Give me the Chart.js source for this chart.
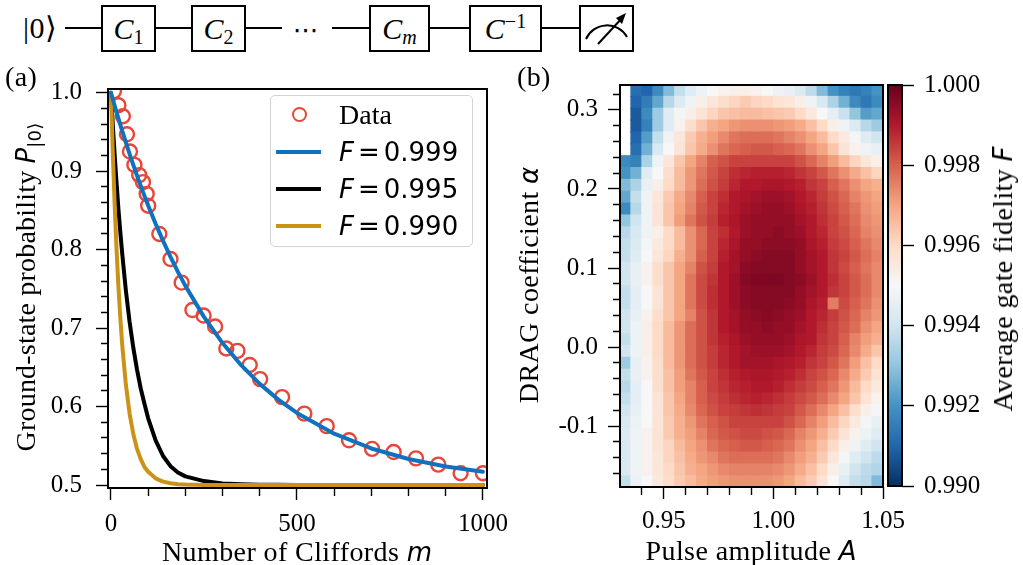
<!DOCTYPE html>
<html lang="en">
<head>
<meta charset="UTF-8">
<title>Randomized benchmarking and DRAG calibration</title>
<script src="https://cdn.jsdelivr.net/npm/chart.js@4.4.1/dist/chart.umd.min.js"></script>
<style>
  html, body { margin: 0; padding: 0; background: #fff; }
  body { position: relative; width: 1023px; height: 565px; overflow: hidden; font-family: "Liberation Serif", serif; color: #000; }
  canvas { position: absolute; }
  .t { position: absolute; white-space: nowrap; font-size: 28px; line-height: 28px; height: 28px; letter-spacing: 0.4px; z-index: 4; }
  .c { transform: translate(-50%, -50%); }
  .r { transform: translate(-50%, -50%) rotate(-90deg); }
  .m { font-family: "DejaVu Sans", sans-serif; font-style: italic; font-size: 26px; letter-spacing: 0; }
  .wire { position: absolute; top: 27px; height: 2px; background: #000; }
  .gate { position: absolute; top: 5px; height: 47px; box-sizing: border-box; border: 2px solid #000; background: #fff;
          display: flex; align-items: center; justify-content: center; font-size: 30px; line-height: 30px; }
  .gate sub { font-size: 20px; font-style: normal; vertical-align: -5px; line-height: 0; }
  .gate sup { font-size: 20px; vertical-align: 11px; line-height: 0; }
  #legend { position: absolute; left: 270px; top: 95px; width: 203px; height: 152px; box-sizing: border-box;
            border: 1.5px solid #d4d4d4; border-radius: 5px; background: rgba(255,255,255,0.85); z-index: 5; }
  #legend .item { position: relative; height: 37px; }
  .mk-dot { position: absolute; left: 21px; top: 11px; width: 15px; height: 15px; box-sizing: border-box; border: 2.4px solid; border-radius: 50%; }
  .mk-line { position: absolute; left: 5px; top: 16.5px; width: 45px; height: 4px; }
  .lt { position: absolute; left: 68px; top: 0; height: 37px; line-height: 37px; font-size: 28px; white-space: nowrap; }
</style>
</head>
<body>

<!-- circuit -->
<div class="t" style="left:23px; top:14px; font-size:30px;">|0⟩</div>
<div class="wire" style="left:65px; width:37px"></div>
<div class="gate" style="left:101px; width:55px"><span><i>C</i><sub>1</sub></span></div>
<div class="wire" style="left:155px; width:37px"></div>
<div class="gate" style="left:191px; width:55px"><span><i>C</i><sub>2</sub></span></div>
<div class="wire" style="left:245px; width:37px"></div>
<div class="t c" style="left:306px; top:30px; font-family:'DejaVu Sans'; font-size:26px;">⋯</div>
<div class="wire" style="left:332px; width:38px"></div>
<div class="gate" style="left:369px; width:61px"><span><i>C</i><sub><i>m</i></sub></span></div>
<div class="wire" style="left:429px; width:41px"></div>
<div class="gate" style="left:469px; width:73px"><span><i>C</i><sup>−1</sup></span></div>
<div class="wire" style="left:541px; width:39px"></div>
<div class="gate" style="left:579px; width:55px">
  <svg width="51" height="43" viewBox="0 0 51 43">
    <path d="M5 32 A 23 23 0 0 1 46 30" fill="none" stroke="#000" stroke-width="2"/>
    <line x1="17" y1="37" x2="42" y2="10" stroke="#000" stroke-width="2"/>
    <polygon points="45,6 35,11 41,17" fill="#000"/>
  </svg>
</div>

<canvas id="rb" width="520" height="505" style="left:0; top:60px"></canvas>
<canvas id="heat" width="420" height="505" style="left:500px; top:60px"></canvas>
<canvas id="cbar" width="143" height="505" style="left:880px; top:60px"></canvas>

<div id="legend"></div>

<div class="t" style="left:5px; top:63px">(a)</div>
<div class="t" style="left:517px; top:63px">(b)</div>
<div class="t r" style="left:26px; top:287px; letter-spacing:0.2px">Ground-state probability <span class="m">P</span><span style="font-family:'DejaVu Sans'; font-size:18px; position:relative; top:6px">|0⟩</span></div>
<div class="t c" style="left:297px; top:552px">Number of Cliffords <span class="m">m</span></div>
<div class="t r" style="left:529px; top:285px">DRAG coefficient <span class="m">α</span></div>
<div class="t c" style="left:751px; top:551px">Pulse amplitude <span class="m">A</span></div>
<div class="t r" style="left:1003px; top:279px">Average gate fidelity <span class="m">F</span></div>

<script>
// ---------- panel (a): ground-state probability vs number of Cliffords ----------
const dataM = [8, 20, 32, 43, 51, 63, 76, 86, 96, 100, 130, 160, 190, 219, 249, 280, 310, 340, 373, 401,
               460, 520, 580, 640, 702, 760, 820, 880, 940, 1000];
const dataP = [1.002, 0.984, 0.970, 0.947, 0.925, 0.908, 0.895, 0.886, 0.871, 0.856, 0.820, 0.788, 0.758, 0.723, 0.716,
               0.702, 0.674, 0.671, 0.653, 0.635, 0.612, 0.591, 0.575, 0.557, 0.546, 0.542, 0.534, 0.526, 0.515, 0.515];

const curveM = [0, 5, 10, 15, 20, 25, 30, 40, 50, 60, 70, 80, 90, 100, 120, 140, 160, 180, 200, 250,
                300, 350, 400, 450, 500, 600, 700, 800, 900, 1000];
const curve999 = [1.000, 0.9916, 0.9833, 0.9752, 0.9672, 0.9594, 0.9517, 0.9366, 0.9220, 0.9080, 0.8944, 0.8812, 0.8685, 0.8563, 0.8329,
                  0.8111, 0.7907, 0.7716, 0.7538, 0.7143, 0.6809, 0.6527, 0.6289, 0.6088, 0.5918, 0.5654, 0.5466, 0.5332, 0.5237, 0.5169];
const curve995 = [1.000, 0.958, 0.920, 0.885, 0.852, 0.823, 0.796, 0.748, 0.708, 0.675, 0.647, 0.623, 0.6035, 0.585, 0.557,
                  0.537, 0.524, 0.516, 0.511, 0.505, 0.502, 0.501, 0.5005, 0.5002, 0.500, 0.500, 0.500, 0.500, 0.500, 0.500];
const curve990 = [1.000, 0.922, 0.856, 0.800, 0.753, 0.714, 0.680, 0.628, 0.591, 0.565, 0.546, 0.533, 0.523, 0.517, 0.5085,
                  0.5043, 0.5022, 0.5011, 0.5006, 0.5001, 0.500, 0.500, 0.500, 0.500, 0.500, 0.500, 0.500, 0.500, 0.500, 0.500];

const rbXMajor = [0, 500, 1000];
const rbXMinor = [100, 200, 300, 400, 600, 700, 800, 900];
const rbYMajor = [0.5, 0.6, 0.7, 0.8, 0.9, 1.0];
const rbYMinor = [0.52, 0.54, 0.56, 0.58, 0.62, 0.64, 0.66, 0.68, 0.72, 0.74, 0.76, 0.78,
                  0.82, 0.84, 0.86, 0.88, 0.92, 0.94, 0.96, 0.98];

// ---------- panel (b): average gate fidelity map ----------
// cell centres; values are infidelity 1-F in units of 1e-4 (null = no data)
const heatA = [0.9325, 0.9375, 0.9425, 0.9475, 0.9525, 0.9575, 0.9625, 0.9675, 0.9725, 0.9775, 0.9825, 0.9875,
               0.9925, 0.9975, 1.0025, 1.0075, 1.0125, 1.0175, 1.0225, 1.0275, 1.0325, 1.0375, 1.0425, 1.0475];
const heatAlpha = [0.3245, 0.3095, 0.2945, 0.2795, 0.2645, 0.2495, 0.2345, 0.2195, 0.2045, 0.1895, 0.1745, 0.1595,
                   0.1445, 0.1295, 0.1145, 0.0995, 0.0845, 0.0695, 0.0545, 0.0395, 0.0245, 0.0095, -0.0055, -0.0205,
                   -0.0355, -0.0505, -0.0655, -0.0805, -0.0955, -0.1105, -0.1255, -0.1405, -0.1555, -0.1705];
const heatInfid = [
  [null, 88, 90, 82, 72, 62, 56, 53, 50, 48, 47, 47, 48, 50, 53, 54, 57, 63, 72, 80, 84, 86, 84, 80],
  [null, 90, 85, 76, 64, 57, 52, 47, 44, 41, 39, 37, 39, 40, 43, 44, 47, 52, 58, 66, 74, 82, 86, 82],
  [null, 92, 82, 68, 56, 51, 47, 43, 39, 36, 35, 34, 34, 35, 36, 37, 40, 45, 50, 55, 61, 70, 78, 76],
  [null, 92, 84, 68, 56, 48, 41, 36, 32, 30, 28, 27, 27, 27, 28, 29, 31, 35, 40, 47, 52, 57, 64, 68],
  [null, 90, 78, 62, 52, 44, 37, 32, 29, 26, 23, 22, 22, 22, 23, 25, 27, 30, 34, 40, 45, 51, 56, 60],
  [null, 88, 74, 58, 50, 43, 36, 31, 27, 23, 21, 20, 19, 19, 20, 21, 23, 27, 30, 36, 43, 48, 52, 54],
  [82, 84, 66, 52, 44, 36, 30, 25, 20, 18, 16, 16, 16, 16, 16, 16, 18, 21, 25, 29, 34, 39, 44, 47],
  [80, 74, 56, 50, 41, 34, 28, 23, 19, 16, 13, 12, 11, 11, 11, 12, 14, 16, 19, 23, 27, 31, 35, 39],
  [72, 66, 54, 47, 40, 34, 28, 22, 18, 15, 12, 10, 10, 9, 9, 10, 11, 14, 16, 20, 23, 27, 30, 32],
  [76, 62, 52, 44, 37, 31, 26, 20, 16, 13, 10, 9, 8, 7, 7, 8, 10, 12, 15, 18, 21, 25, 28, 30],
  [82, 64, 52, 43, 36, 30, 25, 19, 16, 12, 10, 8, 7, 6, 6, 7, 9, 11, 14, 17, 20, 23, 27, 29],
  [70, 60, 52, 43, 36, 29, 23, 18, 15, 11, 9, 7, 6, 6, 6, 6, 8, 10, 13, 16, 19, 22, 26, 28],
  [64, 58, 52, 47, 40, 34, 27, 21, 16, 13, 10, 7, 6, 6, 5, 6, 7, 10, 12, 16, 18, 21, 25, 27],
  [62, 57, 51, 45, 40, 34, 27, 21, 16, 12, 9, 6, 6, 5, 5, 5, 6, 9, 11, 15, 17, 20, 23, 26],
  [62, 56, 50, 44, 39, 32, 27, 20, 16, 11, 8, 6, 5, 4, 4, 4, 6, 8, 10, 14, 16, 19, 22, 25],
  [60, 54, 48, 41, 36, 30, 25, 18, 15, 10, 8, 5, 4, 4, 4, 4, 6, 8, 10, 14, 17, 20, 23, 26],
  [60, 54, 48, 41, 36, 30, 23, 17, 14, 10, 7, 4, 3, 3, 3, 4, 5, 7, 10, 13, 16, 19, 22, 26],
  [62, 55, 50, 43, 36, 30, 23, 17, 13, 10, 7, 5, 4, 4, 4, 4, 6, 8, 10, 14, 16, 19, 22, 26],
  [62, 55, 50, 43, 36, 30, 23, 17, 13, 10, 7, 5, 4, 4, 4, 5, 6, 9, 11, 24, 17, 20, 23, 27],
  [60, 54, 48, 41, 36, 30, 25, 18, 14, 10, 8, 6, 5, 4, 5, 6, 7, 10, 12, 15, 18, 21, 25, 28],
  [60, 53, 47, 40, 34, 28, 22, 18, 14, 10, 8, 6, 6, 5, 6, 6, 8, 10, 13, 16, 19, 22, 27, 30],
  [62, 53, 47, 40, 34, 28, 22, 18, 14, 11, 9, 7, 6, 6, 6, 7, 9, 10, 14, 16, 20, 25, 29, 32],
  [60, 53, 47, 40, 34, 28, 22, 18, 15, 12, 10, 8, 7, 7, 7, 8, 10, 12, 15, 17, 21, 26, 31, 36],
  [68, 54, 48, 41, 34, 28, 22, 18, 15, 12, 10, 8, 8, 8, 9, 10, 11, 14, 16, 19, 23, 29, 35, 40],
  [62, 54, 48, 41, 35, 29, 23, 19, 16, 13, 11, 10, 9, 9, 10, 11, 13, 16, 18, 21, 26, 31, 37, 43],
  [64, 55, 50, 41, 35, 29, 25, 20, 16, 14, 12, 11, 10, 10, 11, 13, 15, 17, 20, 23, 28, 34, 40, 45],
  [62, 55, 50, 43, 36, 30, 25, 20, 17, 15, 13, 12, 11, 12, 13, 15, 17, 19, 22, 26, 30, 36, 43, 48],
  [60, 54, 50, 43, 36, 31, 26, 21, 18, 16, 15, 14, 13, 14, 15, 16, 19, 22, 26, 30, 35, 41, 47, 51],
  [58, 53, 50, 43, 37, 32, 28, 23, 20, 18, 16, 16, 16, 16, 16, 18, 21, 25, 29, 34, 39, 45, 51, 54],
  [57, 52, 48, 43, 37, 32, 29, 25, 21, 19, 18, 17, 17, 18, 19, 21, 25, 28, 32, 37, 43, 48, 53, 56],
  [58, 52, 48, 43, 39, 34, 30, 27, 23, 21, 20, 19, 19, 20, 21, 23, 27, 30, 35, 40, 47, 52, 56, 60],
  [58, 52, 48, 44, 39, 35, 31, 28, 26, 23, 22, 22, 22, 22, 23, 26, 29, 32, 37, 44, 51, 56, 60, 63],
  [58, 52, 48, 44, 40, 36, 32, 30, 28, 26, 25, 25, 25, 25, 26, 28, 31, 35, 40, 47, 54, 60, 63, 65],
  [62, 53, 50, 45, 41, 37, 34, 31, 29, 28, 27, 27, 27, 27, 28, 30, 34, 37, 43, 50, 56, 62, 64, 72]
];

const heatXMajor = [0.95, 1.00, 1.05];
const heatXMinor = [0.94, 0.96, 0.97, 0.98, 0.99, 1.01, 1.02, 1.03, 1.04];
const heatYMajor = [-0.1, 0.0, 0.1, 0.2, 0.3];
const heatYMinor = [-0.16, -0.14, -0.12, -0.08, -0.06, -0.04, -0.02, 0.02, 0.04, 0.06, 0.08,
                    0.12, 0.14, 0.16, 0.18, 0.22, 0.24, 0.26, 0.28, 0.32];
const cbarTicks = [0.990, 0.992, 0.994, 0.996, 0.998, 1.000];

// RdBu colour map, index 0 = dark red (F = 1.000), last = dark blue (F = 0.990)
const rdbu = ['#67001f', '#b2182b', '#d6604d', '#f4a582', '#fddbc7', '#f7f7f7',
              '#d1e5f0', '#92c5de', '#4393c3', '#2166ac', '#053061'];

function hexRgb(h) {
  return [parseInt(h.slice(1, 3), 16), parseInt(h.slice(3, 5), 16), parseInt(h.slice(5, 7), 16)];
}
function cmap(t) {
  t = Math.min(1, Math.max(0, t)) * (rdbu.length - 1);
  const i = Math.min(rdbu.length - 2, Math.floor(t));
  const f = t - i;
  const a = hexRgb(rdbu[i]), b = hexRgb(rdbu[i + 1]);
  return 'rgb(' + a.map((v, k) => Math.round(v + (b[k] - v) * f)).join(',') + ')';
}

Chart.defaults.font.family = "'Liberation Serif', serif";
Chart.defaults.color = '#000';
Chart.defaults.animation = false;

// box round the plot area
const framePlugin = {
  id: 'frame',
  afterDraw(chart) {
    const { ctx, chartArea: a } = chart;
    ctx.save();
    ctx.strokeStyle = '#000';
    ctx.lineWidth = 2;
    ctx.strokeRect(a.left, a.top, a.right - a.left, a.bottom - a.top);
    ctx.restore();
  }
};

// legend drawn as html so the math labels can mix fonts
const htmlLegend = {
  id: 'htmlLegend',
  afterUpdate(chart) {
    const box = document.getElementById('legend');
    box.innerHTML = '';
    chart.data.datasets.forEach(ds => {
      const item = document.createElement('div');
      item.className = 'item';
      const mark = document.createElement('span');
      if (ds.showLine) {
        mark.className = 'mk-line';
        mark.style.background = ds.borderColor;
      } else {
        mark.className = 'mk-dot';
        mark.style.borderColor = ds.borderColor;
      }
      const text = document.createElement('span');
      text.className = 'lt';
      if (ds.label.startsWith('F = ')) {
        text.innerHTML = '<span style="font-family:\'DejaVu Sans\'; font-size:26px"><i>F</i>' +
          '<span style="margin:0 4px">=</span>' + ds.label.slice(4) + '</span>';
      } else {
        text.textContent = ds.label;
      }
      item.appendChild(mark);
      item.appendChild(text);
      box.appendChild(item);
    });
  }
};

// linear axis with labelled major ticks and shorter minor ticks
function axis(major, minor, fmt, minorDash, pad, extra) {
  return Object.assign({
    type: 'linear',
    afterBuildTicks: s => {
      s.ticks = major.concat(minor).sort((p, q) => p - q).map(v => ({ value: v, isMajor: major.includes(v) }));
    },
    ticks: {
      autoSkip: false, maxRotation: 0, padding: pad,
      font: { size: 25 },
      callback: (v, i, t) => (t[i].isMajor ? fmt(v) : '')
    },
    grid: {
      offset: false, drawOnChartArea: false, tickLength: 12, tickColor: '#000', tickWidth: 1.4,
      tickBorderDash: c => (c.tick && c.tick.isMajor ? [] : minorDash)
    },
    border: { display: false }
  }, extra);
}

new Chart(document.getElementById('rb'), {
  type: 'scatter',
  data: {
    datasets: [
      {
        label: 'Data', data: dataM.map((m, i) => ({ x: m, y: dataP[i] })), showLine: false,
        borderColor: '#e84638', pointBorderColor: '#e84638', pointBackgroundColor: 'rgba(0,0,0,0)',
        pointRadius: 7, pointBorderWidth: 2.4, order: 4
      },
      {
        label: 'F = 0.999', data: curveM.map((m, i) => ({ x: m, y: curve999[i] })), showLine: true,
        borderColor: '#1072be', borderWidth: 4, pointRadius: 0, order: 1
      },
      {
        label: 'F = 0.995', data: curveM.map((m, i) => ({ x: m, y: curve995[i] })), showLine: true,
        borderColor: '#000000', borderWidth: 4, pointRadius: 0, order: 3
      },
      {
        label: 'F = 0.990', data: curveM.map((m, i) => ({ x: m, y: curve990[i] })), showLine: true,
        borderColor: '#ca9216', borderWidth: 4, pointRadius: 0, order: 2
      }
    ]
  },
  options: {
    responsive: false,
    layout: { padding: { top: 22, right: 33, left: 0, bottom: 0 } },
    plugins: { legend: { display: false }, tooltip: { enabled: false } },
    elements: { line: { borderJoinStyle: 'round', borderCapStyle: 'round' } },
    scales: {
      x: axis(rbXMajor, rbXMinor, v => String(v), [8, 30], 9,
        { min: -8, max: 1011, afterFit: s => { s.height = 77; } }),
      y: axis(rbYMajor, rbYMinor, v => v.toFixed(1), [0, 5, 7, 30], 14,
        { min: 0.4962, max: 1.0047, afterFit: s => { s.width = 108; } })
    }
  },
  plugins: [htmlLegend, framePlugin]
});

// heat map cells as floating bars
const halfRow = Math.abs(heatAlpha[0] - heatAlpha[1]) / 2;
const heatCells = [];
const heatColors = [];
heatInfid.forEach((row, r) => row.forEach((u, c) => {
  if (u === null) return;
  heatCells.push({ x: heatA[c], y: [heatAlpha[r] - halfRow, heatAlpha[r] + halfRow] });
  heatColors.push(cmap(u / 100));
}));

new Chart(document.getElementById('heat'), {
  type: 'bar',
  data: {
    datasets: [{
      label: 'F', data: heatCells, backgroundColor: heatColors, borderWidth: 0,
      barPercentage: 1, categoryPercentage: 1, inflateAmount: 0.6
    }]
  },
  options: {
    responsive: false,
    layout: { padding: { top: 22, right: 37, left: 0, bottom: 0 } },
    plugins: { legend: { display: false }, tooltip: { enabled: false } },
    scales: {
      x: axis(heatXMajor, heatXMinor, v => v.toFixed(2), [8, 30], 7,
        { min: 0.93, max: 1.05, offset: false, bounds: 'data', afterFit: s => { s.height = 78; } }),
      y: axis(heatYMajor, heatYMinor, v => v.toFixed(1), [0, 5, 7, 30], 10,
        { min: -0.177, max: 0.3315, afterFit: s => { s.width = 120; } })
    }
  },
  plugins: [framePlugin]
});

// colour bar
new Chart(document.getElementById('cbar'), {
  type: 'bar',
  data: {
    labels: ['F'],
    datasets: [{
      data: [[cbarTicks[0], cbarTicks[cbarTicks.length - 1]]],
      borderWidth: 0, barPercentage: 1, categoryPercentage: 1,
      backgroundColor: c => {
        const a = c.chart.chartArea;
        if (!a) return '#f7f7f7';
        const g = c.chart.ctx.createLinearGradient(0, a.top, 0, a.bottom);
        rdbu.forEach((col, i) => g.addColorStop(i / (rdbu.length - 1), col));
        return g;
      }
    }]
  },
  options: {
    responsive: false,
    layout: { padding: { top: 22, right: 0, left: 8, bottom: 79 } },
    plugins: { legend: { display: false }, tooltip: { enabled: false } },
    scales: {
      x: { display: false },
      y: axis(cbarTicks, [], v => v.toFixed(3), [], 10,
        { position: 'right', min: 0.990, max: 1.000, afterFit: s => { s.width = 121; } })
    }
  },
  plugins: [framePlugin]
});
</script>
</body>
</html>
